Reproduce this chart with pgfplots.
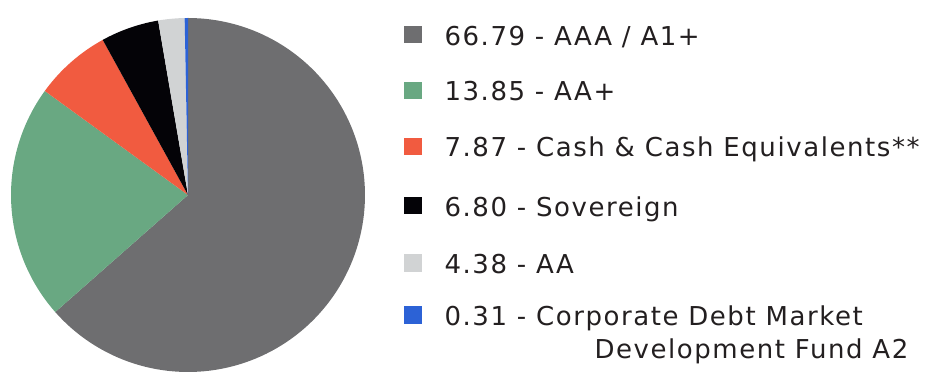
\documentclass[border=0pt]{standalone}
\usepackage{pgfplots}
\pgfplotsset{compat=1.18}
\usepackage{fontspec}
\setmainfont[LetterSpace=6]{DejaVu Sans}
\definecolor{cgray}{HTML}{6E6E70}
\definecolor{cgreen}{HTML}{69A882}
\definecolor{cred}{HTML}{F15B40}
\definecolor{cblack}{HTML}{040307}
\definecolor{clight}{HTML}{D1D3D4}
\definecolor{cblue}{HTML}{2C62D6}
\definecolor{ctext}{HTML}{231F20}
\begin{document}
\begin{tikzpicture}
% slice shares as drawn in the pie (percent), clockwise from 12 o'clock
\def\sA{63.5}\def\sB{21.5}\def\sC{7.0}\def\sD{5.3}\def\sE{2.4}\def\sF{0.3}
\pgfmathsetmacro\aA{0}
\pgfmathsetmacro\aB{\aA+3.6*\sA}
\pgfmathsetmacro\aC{\aB+3.6*\sB}
\pgfmathsetmacro\aD{\aC+3.6*\sC}
\pgfmathsetmacro\aE{\aD+3.6*\sD}
\pgfmathsetmacro\aF{\aE+3.6*\sE}
\pgfmathsetmacro\aG{\aF+3.6*\sF}
\begin{axis}[
  scale only axis, width=946bp, height=382bp,
  xmin=0, xmax=946, ymin=0, ymax=382,
  hide axis, clip=false,
  legend image code/.code={\fill[#1] (0bp,2bp) rectangle (17.5bp,19.3bp);},
  legend style={at={(axis cs:404,356.7)}, anchor=north west, draw=none, fill=none,
    inner sep=0pt, outer sep=0pt, row sep=0pt, column sep=23bp,
    font=\fontsize{26bp}{33.3bp}\selectfont, text=ctext,
    cells={anchor=base west},
    nodes={inner sep=0pt, text height=20bp, text depth=6bp}},
]
\addplot[fill=cgray, draw=none, domain=\aA:\aB, samples=120, variable=\t] ({188+177*sin(\t)},{187+177*cos(\t)}) -- (axis cs:188,187) -- cycle;
\addlegendentry[text depth=35.7bp]{66.79 - AAA / A1+}
\addplot[fill=cgreen, draw=none, domain=\aB:\aC, samples=50, variable=\t] ({188+177*sin(\t)},{187+177*cos(\t)}) -- (axis cs:188,187) -- cycle;
\addlegendentry[text depth=36bp]{13.85 - AA+}
\addplot[fill=cred, draw=none, domain=\aC:\aD, samples=20, variable=\t] ({188+177*sin(\t)},{187+177*cos(\t)}) -- (axis cs:188,187) -- cycle;
\addlegendentry[text depth=39.3bp]{7.87 - Cash \& Cash Equivalents**}
\addplot[fill=cblack, draw=none, domain=\aD:\aE, samples=20, variable=\t] ({188+177*sin(\t)},{187+177*cos(\t)}) -- (axis cs:188,187) -- cycle;
\addlegendentry[text depth=37.4bp]{6.80 - Sovereign}
\addplot[fill=clight, draw=none, domain=\aE:\aF, samples=10, variable=\t] ({188+177*sin(\t)},{187+177*cos(\t)}) -- (axis cs:188,187) -- cycle;
\addlegendentry[text depth=32bp]{4.38 - AA}
\addplot[fill=cblue, draw=none, domain=\aF:\aG, samples=4, variable=\t] ({188+177*sin(\t)},{187+177*cos(\t)}) -- (axis cs:188,187) -- cycle;
\addlegendentry{\begin{tabular}[t]{@{}l@{}}0.31 - Corporate Debt Market\\\hspace*{150bp}Development Fund A2\end{tabular}}
\end{axis}
\pgfresetboundingbox
\path (current axis.south west) rectangle (current axis.north east);
\end{tikzpicture}
\end{document}
